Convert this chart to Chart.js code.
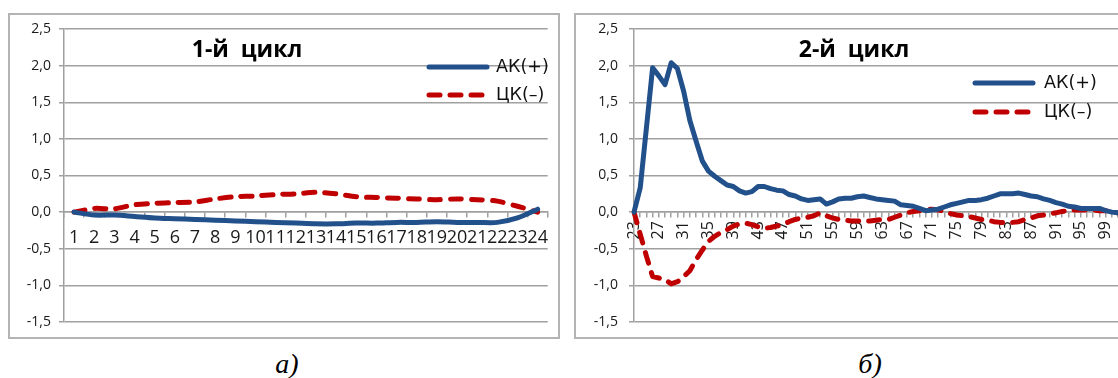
<!DOCTYPE html>
<html>
<head>
    <meta charset="UTF-8">
    <title>Циклы</title>
    <script src="https://cdn.jsdelivr.net/npm/chart.js@4.4.1/dist/chart.umd.min.js"></script>
    <style>
        html, body { margin: 0; padding: 0; background: #fff; width: 1118px; height: 378px; overflow: hidden; }
        .panel { position: absolute; top: 13px; height: 326px; border: 2px solid #b4b4b4; box-sizing: border-box; background: #fff; }
        .panel canvas { position: absolute; left: 0; top: 0; }
        .title { position: absolute; top: 37px; font: bold 23px "Open Sans"; line-height: 23px; white-space: pre; transform: translateX(-50%); color: #000; }
        .caption { position: absolute; top: 350px; font: italic 28px "Liberation Serif"; line-height: 28px; transform: translateX(-50%); color: #000; }
    </style>
</head>
<body>
    <div class="panel" id="panel1" style="left: 8px; width: 552px;"><canvas id="chart1" width="548" height="322"></canvas></div>
    <div class="panel" id="panel2" style="left: 574px; width: 580px;"><canvas id="chart2" width="576" height="322"></canvas></div>
    <div class="title" style="left: 247px;">1-й  цикл</div>
    <div class="title" style="left: 854px;">2-й  цикл</div>
    <div class="caption" style="left: 287px;">а)</div>
    <div class="caption" style="left: 870px;">б)</div>
    <script>
        // 1-й цикл
        var cycle1Labels = ['1', '2', '3', '4', '5', '6', '7', '8', '9', '10', '11', '12',
            '13', '14', '15', '16', '17', '18', '19', '20', '21', '22', '23', '24'];
        var cycle1AK = [0.00, -0.04, -0.04, -0.06, -0.08, -0.09, -0.10, -0.11, -0.12, -0.13, -0.14, -0.15,
            -0.16, -0.16, -0.15, -0.15, -0.14, -0.14, -0.13, -0.14, -0.14, -0.14, -0.08, 0.04];
        var cycle1CK = [0.00, 0.05, 0.045, 0.10, 0.12, 0.13, 0.14, 0.18, 0.21, 0.22, 0.24, 0.25,
            0.27, 0.25, 0.21, 0.20, 0.19, 0.18, 0.17, 0.18, 0.17, 0.15, 0.08, 0.00];

        // 2-й цикл
        var cycle2Labels = ['23', '24', '25', '26', '27', '28', '29', '30', '31', '32', '33', '34', '35', '36',
            '37', '38', '39', '40', '41', '42', '43', '44', '45', '46', '47', '48', '49', '50', '51', '52',
            '53', '54', '55', '56', '57', '58', '59', '60', '61', '62', '63', '64', '65', '66', '67', '68',
            '69', '70', '71', '72', '73', '74', '75', '76', '77', '78', '79', '80', '81', '82', '83', '84',
            '85', '86', '87', '88', '89', '90', '91', '92', '93', '94', '95', '96', '97', '98', '99', '100', '101'];
        var cycle2AK = [0.00, 0.33, 1.15, 1.97, 1.86, 1.74, 2.04, 1.96, 1.65, 1.25, 0.97, 0.70, 0.56, 0.49,
            0.43, 0.37, 0.35, 0.29, 0.26, 0.28, 0.35, 0.35, 0.32, 0.30, 0.29, 0.24, 0.22, 0.18, 0.16, 0.17,
            0.18, 0.11, 0.14, 0.18, 0.19, 0.19, 0.21, 0.22, 0.20, 0.18, 0.17, 0.16, 0.15, 0.10, 0.09, 0.08,
            0.05, 0.02, 0.03, 0.04, 0.07, 0.10, 0.12, 0.14, 0.16, 0.16, 0.17, 0.19, 0.22, 0.25, 0.25, 0.25,
            0.26, 0.24, 0.22, 0.21, 0.18, 0.16, 0.13, 0.11, 0.08, 0.07, 0.05, 0.05, 0.05, 0.05, 0.02, 0.00, -0.01];
        var cycle2CK = [0.00, -0.30, -0.60, -0.88, -0.90, -0.92, -0.98, -0.95, -0.88, -0.80, -0.65, -0.52, -0.40, -0.33,
            -0.28, -0.24, -0.19, -0.16, -0.15, -0.17, -0.20, -0.22, -0.21, -0.19, -0.17, -0.13, -0.10, -0.08, -0.07, -0.05,
            -0.01, -0.05, -0.08, -0.10, -0.11, -0.12, -0.12, -0.13, -0.12, -0.11, -0.10, -0.10, -0.07, -0.04, -0.01, 0.01,
            0.02, 0.04, 0.04, 0.03, 0.01, -0.02, -0.04, -0.05, -0.06, -0.08, -0.10, -0.11, -0.13, -0.14, -0.14, -0.14,
            -0.13, -0.10, -0.08, -0.05, -0.04, -0.02, -0.01, 0.01, 0.02, 0.03, 0.03, 0.03, 0.03, 0.02, 0.02, 0.00, -0.01];

        var seriesNames = ['АК(+)', 'ЦК(–)'];

        var gridColor = '#a0a0a0';
        var blue = '#21508b';
        var red = '#c00000';

        // legend drawn inside the plot, like in the excel picture
        var insideLegend = {
            id: 'insideLegend',
            afterDraw(chart, args, opts) {
                var ctx = chart.ctx;
                ctx.save();
                ctx.font = '17.5px "DejaVu Sans"';
                ctx.textBaseline = 'middle';
                ctx.fillStyle = '#111';
                chart.data.datasets.forEach((ds, i) => {
                    var y = opts.y[i];
                    ctx.beginPath();
                    ctx.lineWidth = 5;
                    ctx.lineCap = 'round';
                    ctx.strokeStyle = ds.borderColor;
                    ctx.setLineDash(ds.borderDash || []);
                    ctx.moveTo(opts.x + 2, y);
                    ctx.lineTo(opts.x + 2 + (ds.borderDash ? 53 : 58), y);
                    ctx.stroke();
                    ctx.setLineDash([]);
                    ctx.fillText(ds.label, opts.textX, y);
                });
                ctx.restore();
            }
        };

        function makeConfig(labels, ak, ck, o) {
            return {
                type: 'line',
                data: {
                    labels: labels,
                    datasets: [{
                        label: seriesNames[0],
                        data: ak,
                        borderColor: blue,
                        borderWidth: 5,
                        pointRadius: 0,
                        tension: o.tension,
                        borderCapStyle: 'round',
                        borderJoinStyle: 'round'
                    }, {
                        label: seriesNames[1],
                        data: ck,
                        borderColor: red,
                        borderWidth: 5,
                        borderDash: [11, 10],
                        pointRadius: 0,
                        tension: o.tension,
                        borderCapStyle: 'round',
                        borderJoinStyle: 'round'
                    }]
                },
                options: {
                    responsive: false,
                    animation: false,
                    devicePixelRatio: 1,
                    layout: { padding: { left: 0, top: 14, right: o.padRight, bottom: 15 } },
                    plugins: {
                        legend: { display: false },
                        tooltip: { enabled: false },
                        insideLegend: o.legend
                    },
                    scales: {
                        x: {
                            type: 'category',
                            position: { y: 0 },
                            offset: o.offset,
                            grid: { offset: o.offset, drawOnChartArea: false, color: gridColor, tickLength: 5, lineWidth: 1.5 },
                            border: { color: gridColor, width: 1.5 },
                            afterFit: function (s) { s.paddingTop = 0; s.paddingBottom = 0; },
                            ticks: {
                                autoSkip: false,
                                minRotation: o.rotation,
                                maxRotation: o.rotation,
                                padding: o.xPad,
                                color: '#1a1a1a',
                                font: { family: 'Open Sans', size: o.xFont },
                                callback: function (val, idx) {
                                    return idx % o.every === 0 ? labels[idx] : '';
                                }
                            }
                        },
                        y: {
                            min: -1.5,
                            max: 2.5,
                            afterFit: function (s) { s.width = o.yWidth; s.paddingTop = 0; s.paddingBottom = 0; },
                            grid: { color: gridColor, tickLength: 5, lineWidth: 1.5 },
                            border: { color: gridColor, width: 1.5 },
                            ticks: {
                                stepSize: 0.5,
                                padding: o.yPad,
                                color: '#1a1a1a',
                                font: { family: 'Open Sans', size: 14 },
                                callback: v => v.toFixed(1).replace('.', ',')
                            }
                        }
                    }
                },
                plugins: [insideLegend]
            };
        }

        new Chart(document.getElementById('chart1'), makeConfig(cycle1Labels, cycle1AK, cycle1CK, {
            tension: 0.3, offset: true, rotation: 0, xPad: 10, xFont: 18, every: 1,
            yWidth: 54, yPad: 8, padRight: 3,
            legend: { x: 417, textX: 486, y: [52, 80] }
        }));

        new Chart(document.getElementById('chart2'), makeConfig(cycle2Labels, cycle2AK, cycle2CK, {
            tension: 0, offset: false, rotation: 90, xPad: 4, xFont: 16, every: 4,
            yWidth: 58, yPad: 11, padRight: 34,
            legend: { x: 397, textX: 468, y: [68, 97] }
        }));
    </script>
</body>
</html>
